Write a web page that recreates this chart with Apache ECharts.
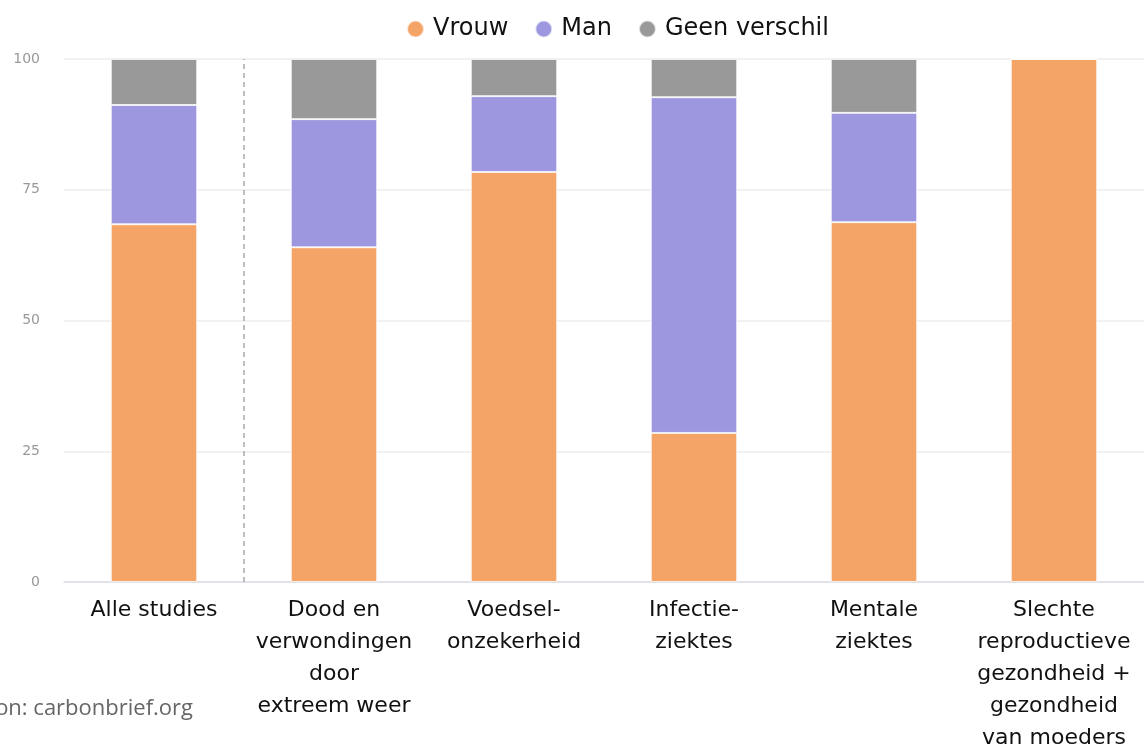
<!DOCTYPE html>
<html>
<head>
<meta charset="utf-8">
<script src="https://cdn.jsdelivr.net/npm/echarts@6/dist/echarts.min.js"></script>
<style>
  html, body { margin: 0; padding: 0; background: #fff; }
  #chart { width: 1144px; height: 745px; }
</style>
</head>
<body>
<div id="chart"></div>
<script>
// categorieën en waarden (percentage studies)
const categories = [
  'Alle studies',
  'Dood en\nverwondingen\ndoor\nextreem weer',
  'Voedsel-\nonzekerheid',
  'Infectie-\nziektes',
  'Mentale\nziektes',
  'Slechte\nreproductieve\ngezondheid +\ngezondheid\nvan moeders'
]
const vrouw = [68.4, 64.0, 78.4, 28.5, 68.8, 100]
const man = [22.8, 24.5, 14.5, 64.2, 20.9, 0]
const geenVerschil = [8.8, 11.5, 7.1, 7.3, 10.3, 0]
const yTicks = [0, 25, 50, 75, 100]

const chart = echarts.init(document.getElementById('chart'))

const barStyle = (color) => ({
  color: color,
  borderColor: 'rgba(255,255,255,0.7)',
  borderWidth: 1
})

const option = {
  animation: false,
  textStyle: { fontFamily: 'DejaVu Sans' },
  legend: {
    top: 12,
    left: 401,
    icon: 'circle',
    itemWidth: 17,
    itemHeight: 17,
    itemGap: 26,
    textStyle: { fontSize: 24, color: '#111', fontFamily: 'DejaVu Sans', padding: [0, 0, 0, 4] },
    data: ['Vrouw', 'Man', 'Geen verschil']
  },
  grid: {
    left: 64,
    right: 0,
    top: 59,
    bottom: 163,
    outerBoundsMode: 'none',
    containLabel: false
  },
  xAxis: [
    {
      type: 'category',
      data: categories,
      axisTick: { show: false },
      axisLine: { lineStyle: { color: '#dcdde8', width: 1.5 } },
      axisLabel: {
        color: '#111',
        fontSize: 22,
        lineHeight: 32,
        margin: 12,
        interval: 0
      }
    },
    // hulpas voor de scheidingslijn tussen categorieën
    { type: 'value', min: 0, max: categories.length, show: false }
  ],
  yAxis: {
    type: 'value',
    min: yTicks[0],
    max: yTicks[yTicks.length - 1],
    interval: 25,
    axisLine: { show: false },
    axisTick: { show: false },
    axisLabel: { color: '#999', fontSize: 14, margin: 24 },
    splitLine: { lineStyle: { color: '#ececec', width: 1.5 } }
  },
  series: [
    { name: 'Vrouw', type: 'bar', stack: 'a', barWidth: '48%', data: vrouw, itemStyle: barStyle('#F4A467') },
    { name: 'Man', type: 'bar', stack: 'a', data: man, itemStyle: barStyle('#9C97DE') },
    { name: 'Geen verschil', type: 'bar', stack: 'a', data: geenVerschil, itemStyle: barStyle('#999999') },
    {
      name: 'scheiding',
      type: 'line',
      xAxisIndex: 1,
      data: [[1, 0]],
      symbol: 'none',
      silent: true,
      markLine: {
        silent: true,
        symbol: 'none',
        label: { show: false },
        lineStyle: { color: '#aaa', type: [5, 4], width: 1.5 },
        data: [{ xAxis: 1 }]
      }
    }
  ],
  graphic: [
    {
      type: 'text',
      right: 951,
      top: 698,
      style: { text: 'Bron: carbonbrief.org', fontSize: 22, fill: '#666', fontFamily: 'Open Sans' }
    }
  ]
}

chart.setOption(option)
</script>
</body>
</html>
